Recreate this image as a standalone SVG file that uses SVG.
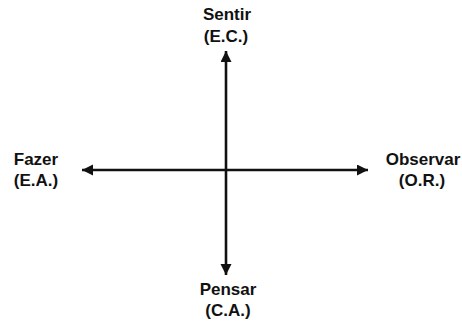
<svg xmlns="http://www.w3.org/2000/svg" width="462" height="322" viewBox="0 0 462 322">
<style>
.lbl{font-family:"Liberation Sans",Arial,sans-serif;font-size:17px;font-weight:bold;fill:#111;text-anchor:middle}
.ax{stroke:#111;stroke-width:2.6;fill:none}
</style>
<defs>
<marker id="ah" markerUnits="userSpaceOnUse" markerWidth="12" markerHeight="12" refX="11" refY="5.5" orient="auto-start-reverse">
<path d="M0,0 L11,5.5 L0,11 Z" fill="#111"/>
</marker>
</defs>
<rect width="462" height="322" fill="#fff"/>
<g id="connectors">
<line class="ax" x1="226" y1="51" x2="226" y2="275" marker-start="url(#ah)" marker-end="url(#ah)"/>
<line class="ax" x1="82" y1="170" x2="368" y2="170" marker-start="url(#ah)" marker-end="url(#ah)"/>
</g>
<g id="sentir"><text class="lbl" x="227" y="20">Sentir</text><text class="lbl" x="226" y="41.5">(E.C.)</text></g>
<g id="fazer"><text class="lbl" x="36" y="165">Fazer</text><text class="lbl" x="36" y="186">(E.A.)</text></g>
<g id="observar"><text class="lbl" x="423" y="165">Observar</text><text class="lbl" x="422" y="186">(O.R.)</text></g>
<g id="pensar"><text class="lbl" x="228" y="295">Pensar</text><text class="lbl" x="228" y="316">(C.A.)</text></g>
</svg>
